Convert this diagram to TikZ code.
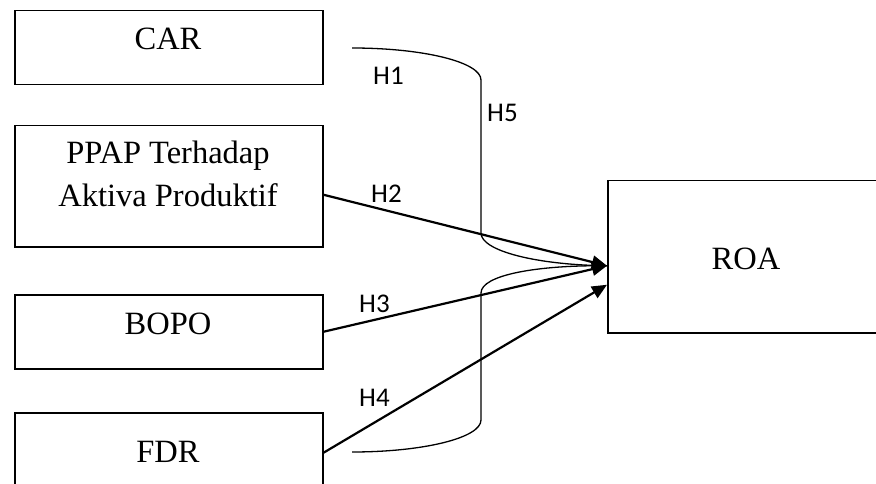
\documentclass[tikz,border=0pt]{standalone}
\usepackage{fontspec}
\setmainfont{Liberation Serif}
\newfontfamily\lblfont{Carlito}
\usetikzlibrary{arrows.meta}
\begin{document}
\begin{tikzpicture}[x=1pt,y=-1pt,
  box/.style={draw=black,line width=1.5pt,inner sep=0pt,anchor=north west},
  boxtext/.style={inner sep=0pt,anchor=base,font=\fontsize{32.5}{43}\selectfont,align=center},
  hlabel/.style={inner sep=0pt,anchor=base west,font=\lblfont\fontsize{27}{32}\selectfont},
  arr/.style={line width=2.2pt,-{Triangle[length=15pt,width=13pt]}},
  curve/.style={line width=1.3pt}]
\useasboundingbox (0,0) rectangle (876,484);
\clip (0,0) rectangle (876,484);
% boxes
\node[box,minimum width=308pt,minimum height=74pt] (car) at (14,10) {};
\node[box,minimum width=308pt,minimum height=121pt] (ppap) at (14,125) {};
\node[box,minimum width=308pt,minimum height=74pt] (bopo) at (14,294) {};
\node[box,minimum width=308pt,minimum height=80pt] (fdr) at (14,412) {};
\node[box,minimum width=300pt,minimum height=152pt] (roa) at (607,180) {};
% texts
\node[boxtext] (tcar) at (168,50) {CAR};
\node[boxtext] (tppap1) at (168,164) {PPAP Terhadap};
\node[boxtext] (tppap2) at (168,207) {Aktiva Produktif};
\node[boxtext] (tbopo) at (168,334) {BOPO};
\node[boxtext] (tfdr) at (168,462) {FDR};
\node[boxtext] (troa) at (746,269) {ROA};
% connector points
\coordinate (p2) at ([yshift=-8.5pt]ppap.east);
\coordinate (t23) at ([yshift=-9pt]roa.west);
\coordinate (t4) at ([yshift=-28pt]roa.west);
\coordinate (cs) at (352,48);
\coordinate (ce) at (352,452);
% arrows
\draw[arr] (p2) -- (t23);
\draw[arr] (bopo.east) -- (t23);
\draw[arr] (fdr.east) -- (t4);
% H5 curves
\draw[curve] (cs) .. controls (423,48) and (481,62) .. (481,80)
  -- (481,233) .. controls (481,251) and (537,265) .. (t23);
\draw[curve] (ce) .. controls (423,452) and (481,438) .. (481,420)
  -- (481,293) .. controls (481,275) and (537,265) .. (t23);
% labels
\node[hlabel] (h1) at (373,85) {H1};
\node[hlabel] (h5) at (487,122) {H5};
\node[hlabel] (h2) at (371,202) {H2};
\node[hlabel] (h3) at (359,312) {H3};
\node[hlabel] (h4) at (359,406) {H4};
\end{tikzpicture}
\end{document}
